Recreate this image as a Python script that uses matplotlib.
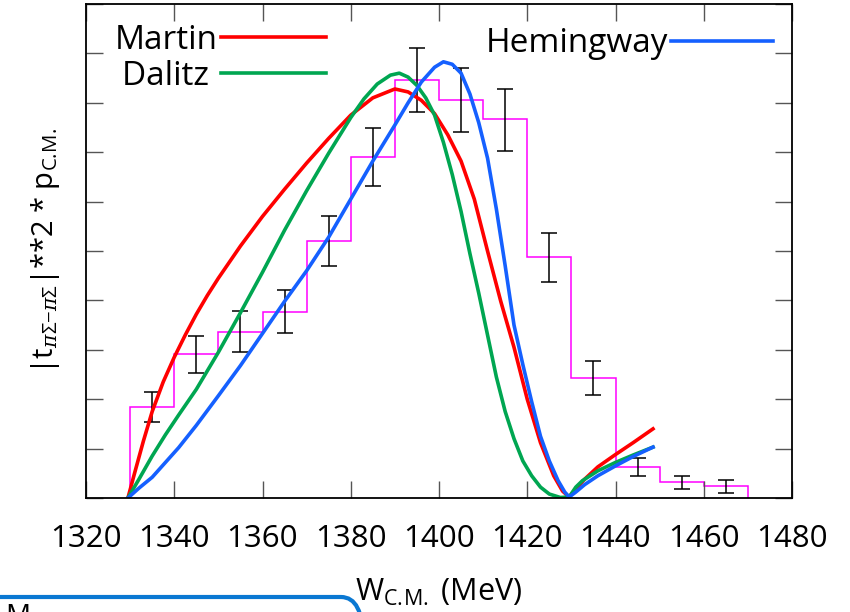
import matplotlib
matplotlib.use("Agg")
import matplotlib.pyplot as plt
from matplotlib.patches import FancyBboxPatch

plt.rcParams['font.family'] = ['Open Sans', 'DejaVu Sans']
plt.rcParams['mathtext.fontset'] = 'custom'
plt.rcParams['mathtext.rm'] = 'Open Sans'
plt.rcParams['mathtext.it'] = 'DejaVu Serif:italic'

# histogram (10 MeV bins) and data points with errors
bin_edges = [1330, 1340, 1350, 1360, 1370, 1380, 1390, 1400, 1410,
             1420, 1430, 1440, 1450, 1460, 1470]
hist_vals = [1.84, 2.91, 3.37, 3.77, 5.20, 6.90, 8.46, 8.06, 7.67,
             4.88, 2.43, 0.63, 0.33, 0.24]
pt_x = [1335, 1345, 1355, 1365, 1375, 1385, 1395, 1405, 1415,
        1425, 1435, 1445, 1455, 1465]
pt_y = [1.84, 2.90, 3.37, 3.78, 5.20, 6.90, 8.46, 8.06, 7.65,
        4.87, 2.43, 0.63, 0.32, 0.24]
pt_err = [0.30, 0.37, 0.41, 0.44, 0.51, 0.59, 0.65, 0.65, 0.63,
          0.50, 0.34, 0.18, 0.13, 0.13]

# model curves
martin_x = [1329.5, 1331, 1333, 1335, 1337.5, 1340, 1342.5, 1345, 1347.5, 1350,
            1355, 1360, 1365, 1370, 1375, 1380, 1385, 1390, 1393, 1396,
            1399, 1402, 1405, 1408, 1411, 1414, 1417, 1420, 1423, 1426,
            1428, 1429.5, 1431, 1433, 1436, 1440, 1444, 1448.5]
martin_y = [0.0, 0.50, 1.15, 1.75, 2.35, 2.85, 3.30, 3.72, 4.10, 4.45,
            5.10, 5.70, 6.25, 6.78, 7.28, 7.75, 8.10, 8.28, 8.22, 8.05,
            7.78, 7.35, 6.82, 6.05, 5.00, 3.98, 3.05, 2.00, 1.12, 0.45,
            0.14, 0.02, 0.18, 0.38, 0.63, 0.88, 1.12, 1.40]

dalitz_x = [1329.5, 1332, 1335, 1338, 1341, 1345, 1350, 1355, 1360, 1365,
            1370, 1375, 1380, 1383, 1386, 1389, 1391, 1393, 1395, 1397,
            1399, 1401, 1403, 1405, 1407, 1409, 1411, 1413, 1415, 1417,
            1419, 1421, 1423, 1425, 1427.5, 1429.5, 1431, 1432.5, 1436,
            1440, 1444, 1448.5]
dalitz_y = [0.0, 0.38, 0.85, 1.28, 1.68, 2.20, 2.95, 3.75, 4.57, 5.42,
            6.22, 6.98, 7.70, 8.08, 8.38, 8.56, 8.60, 8.52, 8.35, 8.10,
            7.75, 7.20, 6.55, 5.80, 4.95, 4.15, 3.30, 2.45, 1.75, 1.20,
            0.75, 0.45, 0.22, 0.08, 0.01, 0.02, 0.22, 0.35, 0.55,
            0.72, 0.87, 1.03]

heming_x = [1329.5, 1332, 1335, 1338, 1341, 1345, 1350, 1355, 1360, 1365,
            1370, 1375, 1380, 1385, 1390, 1393, 1396, 1399, 1401, 1403,
            1405, 1407, 1409, 1411, 1413, 1415, 1417, 1419, 1421, 1423,
            1425, 1427, 1428.5, 1429.5, 1431, 1433, 1436, 1440, 1444, 1448.5]
heming_y = [0.0, 0.20, 0.42, 0.72, 1.02, 1.47, 2.07, 2.68, 3.33, 3.98,
            4.60, 5.28, 6.05, 6.82, 7.55, 8.00, 8.42, 8.72, 8.83, 8.78,
            8.60, 8.18, 7.60, 6.88, 5.85, 4.70, 3.50, 2.70, 1.95, 1.25,
            0.75, 0.35, 0.12, 0.02, 0.12, 0.27, 0.45, 0.65, 0.84, 1.03]

x_ticks = [1320, 1340, 1360, 1380, 1400, 1420, 1440, 1460, 1480]

fig = plt.figure(figsize=(8.5, 6.12), dpi=100)
ax = fig.add_axes([86/850, 1 - 498/612, (792 - 86)/850, (498 - 4)/612])

ax.stairs(hist_vals, bin_edges, baseline=0, color='#ff00ff', lw=1.1)
ax.errorbar(pt_x, pt_y, yerr=pt_err, fmt='none', ecolor='black',
            elinewidth=1.1, capsize=6, capthick=1.1)
l_m, = ax.plot(martin_x, martin_y, color='#ff0000', lw=2.6, label='Martin')
l_d, = ax.plot(dalitz_x, dalitz_y, color='#00a651', lw=2.6, label='Dalitz ')
l_h, = ax.plot(heming_x, heming_y, color='#1560ff', lw=2.6, label='Hemingway')

ax.set_xlim(1320, 1480)
ax.set_ylim(0, 10)
ax.set_xticks(x_ticks)
ax.set_yticks(range(0, 11))
ax.set_yticklabels([])
ax.tick_params(axis='both', direction='in', length=12, width=1,
               color='#555555', top=True, right=True)
ax.tick_params(axis='x', labelsize=22.5, pad=19)
for s in ax.spines.values():
    s.set_linewidth(1.3)

ax.set_xlabel('W$_{\\mathrm{C.\\!M.}}$ (MeV)', fontsize=22, labelpad=16)
ax.set_ylabel('|t$_{\\pi\\Sigma\\mathrm{-}\\pi\\Sigma}$|**2 * p$_{\\mathrm{C.\\!M.}}$',
              fontsize=21, labelpad=14)

leg1 = ax.legend(handles=[l_m, l_d], loc='upper left', bbox_to_anchor=(0.012, 1.0),
                 frameon=False, markerfirst=False, fontsize=24,
                 handlelength=3.15, handletextpad=0.1, labelspacing=0.08,
                 borderaxespad=0.2)
ax.add_artist(leg1)
ax.legend(handles=[l_h], loc='upper right', bbox_to_anchor=(1.006, 1.0),
          frameon=False, markerfirst=False, fontsize=24,
          handlelength=3.05, handletextpad=0.1, borderaxespad=0.3)

# cut-off slide box at the bottom
box = FancyBboxPatch((-0.3, -0.5), 3.93, 0.65,
                     boxstyle='round,pad=0,rounding_size=0.22',
                     transform=fig.dpi_scale_trans, fill=False,
                     edgecolor='#0a78d2', lw=3)
fig.patches.append(box)
fig.text(0.006, 1 - 603/612, 'M', fontsize=20, va='top')

fig.savefig('out.png', dpi=100)
